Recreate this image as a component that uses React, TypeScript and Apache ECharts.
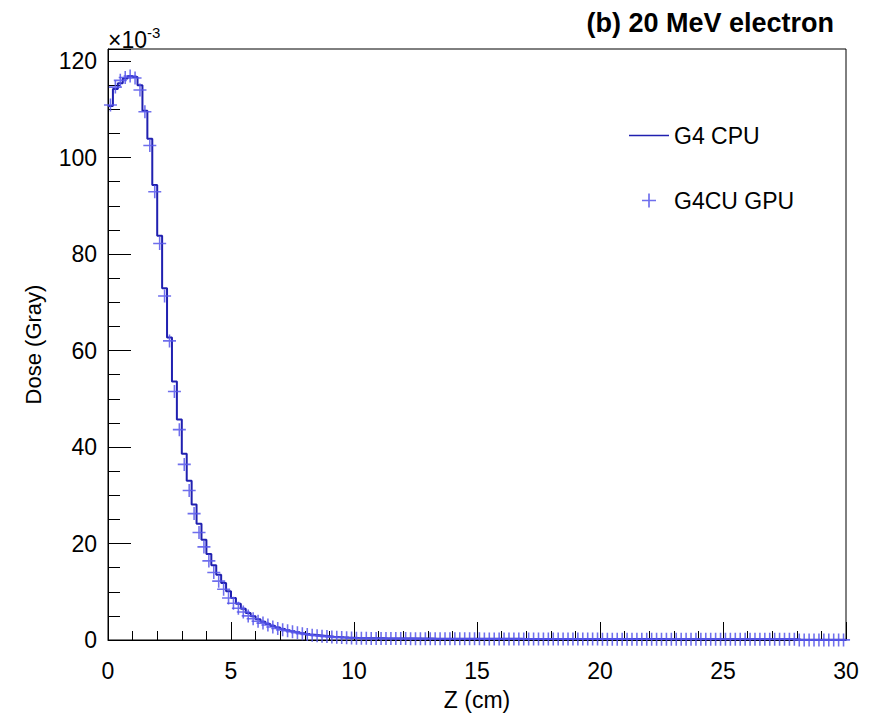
import React, { useEffect, useRef } from "react";
import * as echarts from "echarts";

// Histogram binning (cm)
const binWidth = 0.2;
const zMin = 0;
const zMax = 30;

// G4 CPU dose per bin (x10^-3 Gray), bins of 0.2 cm from 0 to 30 cm
const cpuDose: number[] = [
  110.7, 114.2, 115.4, 116.4, 116.9, 116.7, 115.0, 109.7, 103.9, 94.3,
  83.8, 72.9, 62.7, 53.6, 45.7, 38.6, 33.0, 28.1, 24.1, 20.8,
  17.8, 15.5, 13.5, 11.8, 10.1, 8.7, 7.5, 6.5, 5.6, 4.9,
  4.3, 3.8, 3.3, 2.9, 2.6, 2.3, 2.0, 1.8, 1.6, 1.4,
  1.25, 1.1, 1.0, 0.9, 0.8, 0.7, 0.62, 0.55, 0.5, 0.46,
  0.4, 0.38, 0.36, 0.35, 0.34, 0.34, 0.33, 0.32, 0.32, 0.31,
  0.31, 0.3, 0.3, 0.29, 0.29, 0.29, 0.28, 0.28, 0.28, 0.27,
  0.27, 0.27, 0.26, 0.26, 0.26, 0.26, 0.25, 0.25, 0.25, 0.25,
  0.24, 0.24, 0.24, 0.24, 0.23, 0.23, 0.23, 0.23, 0.23, 0.22,
  0.22, 0.22, 0.22, 0.22, 0.21, 0.21, 0.21, 0.21, 0.21, 0.21,
  0.2, 0.2, 0.2, 0.2, 0.2, 0.2, 0.19, 0.19, 0.19, 0.19,
  0.19, 0.19, 0.19, 0.18, 0.18, 0.18, 0.18, 0.18, 0.18, 0.18,
  0.18, 0.17, 0.17, 0.17, 0.17, 0.17, 0.17, 0.17, 0.17, 0.16,
  0.16, 0.16, 0.16, 0.16, 0.16, 0.16, 0.16, 0.16, 0.16, 0.16,
  0.03, 0.03, 0.03, 0.03, 0.03, 0.03, 0.03, 0.03, 0.03, 0.03,
];

// G4CU GPU dose per bin (x10^-3 Gray)
const gpuDose: number[] = [
  110.9, 114.6, 116.0, 116.6, 116.9, 116.5, 114.0, 109.5, 102.5, 92.9,
  82.2, 71.3, 62.0, 51.5, 43.6, 36.4, 31.0, 26.2, 22.3, 19.3,
  16.4, 14.0, 12.2, 10.5, 8.7, 7.6, 6.6, 5.8, 5.0, 4.4,
  3.9, 3.5, 3.1, 2.7, 2.4, 2.1, 1.9, 1.7, 1.5, 1.3,
  1.15, 1.0, 0.9, 0.8, 0.7, 0.62, 0.55, 0.5, 0.45, 0.42,
  0.37, 0.35, 0.34, 0.33, 0.32, 0.32, 0.31, 0.3, 0.3, 0.29,
  0.29, 0.28, 0.28, 0.27, 0.27, 0.27, 0.26, 0.26, 0.26, 0.25,
  0.25, 0.25, 0.24, 0.24, 0.24, 0.24, 0.23, 0.23, 0.23, 0.23,
  0.22, 0.22, 0.22, 0.22, 0.21, 0.21, 0.21, 0.21, 0.21, 0.2,
  0.2, 0.2, 0.2, 0.2, 0.19, 0.19, 0.19, 0.19, 0.19, 0.19,
  0.18, 0.18, 0.18, 0.18, 0.18, 0.18, 0.17, 0.17, 0.17, 0.17,
  0.17, 0.17, 0.17, 0.16, 0.16, 0.16, 0.16, 0.16, 0.16, 0.16,
  0.16, 0.15, 0.15, 0.15, 0.15, 0.15, 0.15, 0.15, 0.15, 0.14,
  0.14, 0.14, 0.14, 0.14, 0.14, 0.14, 0.14, 0.14, 0.14, 0.14,
  0.02, 0.02, 0.02, 0.02, 0.02, 0.02, 0.02, 0.02, 0.02, 0.02,
];

const seriesNames = ["G4 CPU", "G4CU GPU"];
const chartTitle = "(b) 20 MeV electron";
const xAxisName = "Z (cm)";
const yAxisName = "Dose (Gray)";

const FONT = "Liberation Sans, Arial, Helvetica, sans-serif";
const PLUS =
  "path://M4.4,0h1.2v4.4h4.4v1.2h-4.4v4.4h-1.2v-4.4h-4.4v-1.2h4.4z";
const LINE_ICON = "path://M0,0h40v1.6h-40z";
const CPU_COLOR = "#2020b0";
const GPU_COLOR = "#5656ea";

export default function App() {
  const ref = useRef<HTMLDivElement>(null);

  useEffect(() => {
    if (!ref.current) return;
    const chart = echarts.init(ref.current, null, { renderer: "svg" });

    const cpuData: [number, number][] = cpuDose.map((v, i) => [zMin + i * binWidth, v]);
    cpuData.push([zMax, cpuDose[cpuDose.length - 1]]);
    const gpuData: [number, number][] = gpuDose.map((v, i) => [zMin + (i + 0.5) * binWidth, v]);

    chart.setOption({
      animation: false,
      backgroundColor: "#fff",
      textStyle: { fontFamily: FONT },
      title: {
        text: chartTitle,
        right: 34,
        top: 4,
        textStyle: { fontSize: 27, fontWeight: "bold", color: "#000", fontFamily: FONT },
      },
      legend: {
        orient: "vertical",
        left: 624,
        top: 119,
        itemWidth: 40,
        itemHeight: 14,
        itemGap: 42,
        textStyle: { fontSize: 23, color: "#000", fontFamily: FONT },
        data: [
          { name: seriesNames[0], icon: LINE_ICON, itemStyle: { color: CPU_COLOR } },
          { name: seriesNames[1], icon: PLUS },
        ],
      },
      grid: {
        left: 108,
        right: 27,
        top: 49,
        bottom: 68,
        show: true,
        borderColor: "#000",
        borderWidth: 1,
        backgroundColor: "transparent",
      },
      xAxis: {
        type: "value",
        min: zMin,
        max: zMax,
        interval: 5,
        name: xAxisName,
        nameLocation: "middle",
        nameGap: 48,
        nameTextStyle: { fontSize: 23, color: "#000", fontFamily: FONT },
        axisLine: { show: true, onZero: false, lineStyle: { color: "#000", width: 1 } },
        axisTick: { show: true, inside: true, length: 18, lineStyle: { color: "#000", width: 1 } },
        minorTick: { show: true, splitNumber: 5, length: 9, lineStyle: { color: "#000", width: 1 } },
        axisLabel: { fontSize: 23, color: "#000", margin: 19, fontFamily: FONT },
        splitLine: { show: false },
      },
      yAxis: {
        type: "value",
        min: 0,
        max: 122.5,
        interval: 20,
        name: yAxisName,
        nameLocation: "middle",
        nameGap: 64,
        nameRotate: 90,
        nameTextStyle: { fontSize: 22, color: "#000", fontFamily: FONT },
        axisLine: { show: true, lineStyle: { color: "#000", width: 1 } },
        axisTick: { show: true, inside: true, length: 23, lineStyle: { color: "#000", width: 1 } },
        minorTick: { show: true, splitNumber: 4, length: 12, lineStyle: { color: "#000", width: 1 } },
        axisLabel: { fontSize: 23, color: "#000", margin: 11, showMaxLabel: false, fontFamily: FONT },
        splitLine: { show: false },
      },
      graphic: [
        {
          type: "text",
          left: 108,
          top: 25,
          style: {
            text: "{a|×10}{b|-3}",
            rich: {
              a: { fontSize: 23, fontFamily: FONT, fill: "#000" },
              b: { fontSize: 15, fontFamily: FONT, fill: "#000", verticalAlign: "top", padding: [0, 0, 14, 0] },
            },
          },
        },
      ],
      series: [
        {
          name: seriesNames[0],
          type: "line",
          step: "end",
          data: cpuData,
          symbol: "none",
          showSymbol: false,
          lineStyle: { color: CPU_COLOR, width: 2 },
          itemStyle: { color: CPU_COLOR },
          z: 2,
        },
        {
          name: seriesNames[1],
          type: "scatter",
          data: gpuData,
          symbol: PLUS,
          symbolSize: 13,
          itemStyle: { color: GPU_COLOR, opacity: 0.85 },
          z: 3,
        },
      ],
    });

    return () => chart.dispose();
  }, []);

  return (
    <div
      ref={ref}
      style={{ position: "absolute", left: 0, top: 0, width: 873, height: 716 }}
    />
  );
}
